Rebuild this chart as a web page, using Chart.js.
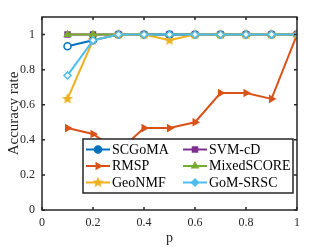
<!DOCTYPE html>
<html lang="en">
<head>
<meta charset="UTF-8">
<script src="https://cdn.jsdelivr.net/npm/chart.js"></script>
<title>Accuracy rate</title>
<style>
  html, body { margin: 0; padding: 0; background: #fff; }
</style>
</head>
<body>
<canvas id="chart" width="329" height="247"></canvas>
<script>
  // data
  var pValues = [0.1, 0.2, 0.3, 0.4, 0.5, 0.6, 0.7, 0.8, 0.9, 1.0];
  var scgomaData = [0.933, 0.967, 1, 1, 1, 1, 1, 1, 1, 1];
  var svmcdData = [1, 1, 1, 1, 1, 1, 1, 1, 1, 1];
  var rmspData = [0.467, 0.433, 0.333, 0.467, 0.467, 0.5, 0.667, 0.667, 0.633, 1];
  var mixedData = [1, 1, 1, 1, 1, 1, 1, 1, 1, 1];
  var geonmfData = [0.633, 0.967, 1, 1, 0.967, 1, 1, 1, 1, 1];
  var gomsrscData = [0.767, 0.967, 1, 1, 1, 1, 1, 1, 1, 1];
  var axisTicks = [0, 0.2, 0.4, 0.6, 0.8, 1];

  var FONT = "'Liberation Serif', 'DejaVu Serif', serif";
  var AXIS = '#262626';

  // pentagram marker for GeoNMF
  function makeStar(color, r) {
    var c = document.createElement('canvas');
    var s = Math.ceil(r * 2 + 2);
    c.width = s; c.height = s;
    var g = c.getContext('2d');
    g.beginPath();
    for (var i = 0; i < 10; i++) {
      var rr = i % 2 === 0 ? r : r * 0.42;
      var a = -Math.PI / 2 + i * Math.PI / 5;
      var x = s / 2 + rr * Math.cos(a), y = s / 2 + rr * Math.sin(a);
      if (i === 0) g.moveTo(x, y); else g.lineTo(x, y);
    }
    g.closePath();
    g.fillStyle = color;
    g.fill();
    return c;
  }
  var starImg = makeStar('#EDB120', 6);

  function toXY(vals) {
    return vals.map(function (v, i) { return { x: pValues[i], y: v }; });
  }

  var series = [
    { label: 'SCGoMA', data: scgomaData, color: '#0072BD', style: 'circle', fill: '#ffffff', rot: 0, order: 6 },
    { label: 'SVM-cD', data: svmcdData, color: '#7E2F8E', style: 'rect', fill: '#7E2F8E', rot: 0, order: 5 },
    { label: 'RMSP', data: rmspData, color: '#D95319', style: 'triangle', fill: '#D95319', rot: 90, order: 4 },
    { label: 'MixedSCORE', data: mixedData, color: '#77AC30', style: 'triangle', fill: '#77AC30', rot: 0, order: 3 },
    { label: 'GeoNMF', data: geonmfData, color: '#EDB120', style: starImg, fill: '#EDB120', rot: 0, order: 2 },
    { label: 'GoM-SRSC', data: gomsrscData, color: '#4DBEEE', style: 'rectRot', fill: '#ffffff', rot: 0, order: 1 }
  ];

  var datasets = series.map(function (s) {
    return {
      label: s.label,
      data: toXY(s.data),
      borderColor: s.color,
      backgroundColor: s.fill,
      borderWidth: 2,
      pointStyle: s.style,
      pointRotation: s.rot,
      pointRadius: 3.5,
      pointBorderWidth: 1.5,
      pointBackgroundColor: s.fill,
      pointBorderColor: s.color,
      order: s.order,
      tension: 0
    };
  });

  // box around the plot, inward ticks
  var boxPlugin = {
    id: 'box',
    afterDraw: function (chart) {
      var ctx = chart.ctx, a = chart.chartArea;
      var xs = chart.scales.x, ys = chart.scales.y;
      ctx.save();
      ctx.strokeStyle = AXIS;
      ctx.lineWidth = 1.5;
      ctx.strokeRect(a.left, a.top, a.right - a.left, a.bottom - a.top);
      ctx.beginPath();
      axisTicks.forEach(function (t) {
        var px = xs.getPixelForValue(t);
        ctx.moveTo(px, a.bottom); ctx.lineTo(px, a.bottom - 3);
        ctx.moveTo(px, a.top); ctx.lineTo(px, a.top + 3);
        var py = ys.getPixelForValue(t);
        ctx.moveTo(a.left, py); ctx.lineTo(a.left + 3, py);
        ctx.moveTo(a.right, py); ctx.lineTo(a.right - 3, py);
      });
      ctx.stroke();
      ctx.restore();
    }
  };

  // legend inside the plot, two columns
  var legendPlugin = {
    id: 'boxLegend',
    afterDatasetsDraw: function (chart) {
      var ctx = chart.ctx;
      var x0 = 83, y0 = 139, w = 210, h = 54;
      ctx.save();
      ctx.fillStyle = '#ffffff';
      ctx.fillRect(x0, y0, w, h);
      ctx.strokeStyle = AXIS;
      ctx.lineWidth = 1.5;
      ctx.strokeRect(x0, y0, w, h);
      ctx.font = '14px ' + FONT;
      ctx.textBaseline = 'middle';
      var cols = [86, 183];
      series.forEach(function (s, i) {
        var cx = cols[i % 2], cy = y0 + 10.5 + Math.floor(i / 2) * 16.5;
        ctx.strokeStyle = s.color;
        ctx.lineWidth = 2;
        ctx.beginPath();
        ctx.moveTo(cx, cy); ctx.lineTo(cx + 24, cy);
        ctx.stroke();
        ctx.fillStyle = s.color;
        ctx.lineWidth = 1.5;
        Chart.helpers.drawPoint(ctx, {
          pointStyle: s.style, radius: 3.5, rotation: s.rot, borderWidth: 1.5
        }, cx + 12, cy);
        ctx.fillStyle = '#000000';
        ctx.fillText(s.label, cx + 26, cy + 0.5);
      });
      ctx.restore();
    }
  };

  new Chart(document.getElementById('chart'), {
    type: 'line',
    data: { datasets: datasets },
    options: {
      responsive: false,
      animation: false,
      layout: { padding: { top: 17, right: 32, left: 0, bottom: 0 } },
      plugins: { legend: { display: false }, tooltip: { enabled: false } },
      scales: {
        x: {
          type: 'linear', min: 0, max: 1,
          afterBuildTicks: function (s) { s.ticks = axisTicks.map(function (v) { return { value: v }; }); },
          afterFit: function (s) { s.height = 37; },
          grid: { display: false, drawTicks: false },
          border: { display: false },
          ticks: {
            color: '#262626', padding: 6, maxRotation: 0,
            font: { family: FONT, size: 12 },
            callback: function (v) { return String(+v.toFixed(1)); }
          },
          title: {
            display: true, text: 'p', color: '#262626',
            font: { family: FONT, size: 14 }, padding: { top: 0, bottom: 0 }
          }
        },
        y: {
          type: 'linear', min: 0, max: 1.1,
          afterBuildTicks: function (s) { s.ticks = axisTicks.map(function (v) { return { value: v }; }); },
          afterFit: function (s) { s.width = 42; },
          grid: { display: false, drawTicks: false },
          border: { display: false },
          ticks: {
            color: '#262626', padding: 7,
            font: { family: FONT, size: 12 },
            callback: function (v) { return String(+v.toFixed(1)); }
          },
          title: {
            display: true, text: 'Accuracy rate', color: '#262626',
            font: { family: FONT, size: 15 }, padding: { top: 5, bottom: 0 }
          }
        }
      }
    },
    plugins: [boxPlugin, legendPlugin]
  });
</script>
</body>
</html>
